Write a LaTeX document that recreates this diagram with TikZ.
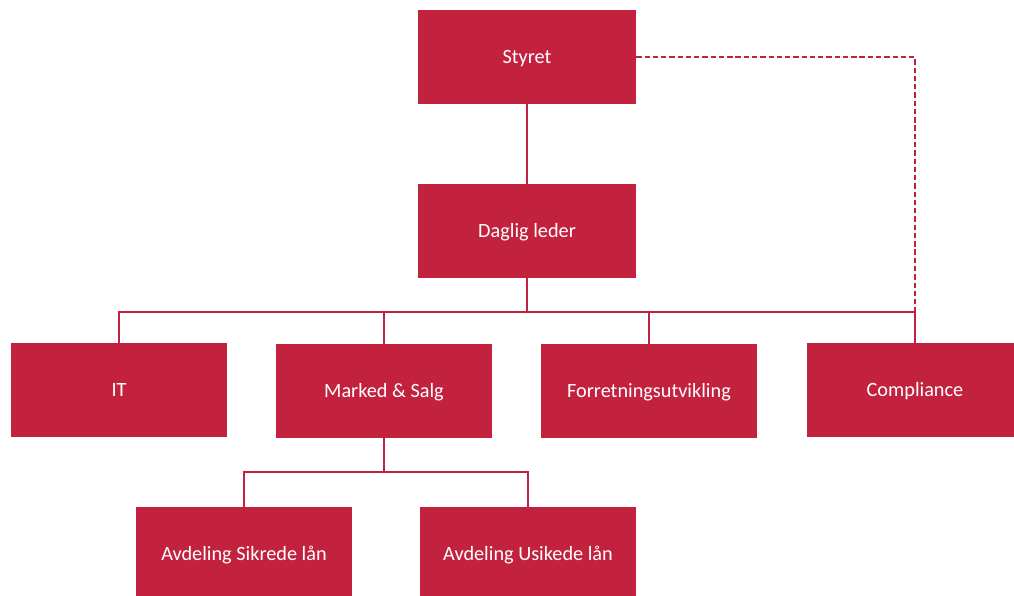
\documentclass[tikz,border=0pt]{standalone}
\usepackage{fontspec}
\setmainfont{Carlito}
\definecolor{orgred}{RGB}{195,34,63}
\tikzset{
    unit/.style={fill=orgred, text=white, minimum width=162pt, minimum height=70.5pt, inner sep=0pt,
        text height=9.8pt, text depth=0pt, font=\fontsize{15.2}{18}\selectfont},
    link/.style={orgred, line width=1.5pt},
    dotted link/.style={orgred, line width=1.2pt, dash pattern=on 4pt off 2.2pt}
}
\begin{document}
\begin{tikzpicture}[x=0.75pt, y=-0.75pt]
    \useasboundingbox (0,0) rectangle (1014,596);
    \clip (0,0) rectangle (1014,596);
    % Top levels
    \node[unit, minimum width=163.5pt] (styret) at (527,57) {Styret};
    \node[unit, minimum width=163.5pt] (leder) at (527,231) {Daglig leder};
    % Departments
    \node[unit] (it) at (119,390) {IT};
    \node[unit] (marked) at (384,391) {Marked \& Salg};
    \node[unit] (forret) at (649,391) {Forretningsutvikling};
    \node[unit] (compl) at (915,390) {Compliance};
    % Sub-departments
    \node[unit] (sikrede) at (244,554) {Avdeling Sikrede lån};
    \node[unit] (usikede) at (528,554) {Avdeling Usikede lån};
    % Bus lines
    \coordinate (bus) at (527,312);
    \coordinate (subbus) at (384,472);
    \draw[link] (styret.south) -- (leder.north);
    \draw[link] (leder.south) -- (bus);
    \draw[link] (it.north) |- (bus);
    \draw[link] (marked.north) |- (bus);
    \draw[link] (forret.north) |- (bus);
    \draw[link] (compl.north) |- (bus);
    \draw[link] (marked.south) -- (subbus);
    \draw[link] (sikrede.north) |- (subbus);
    \draw[link] (usikede.north) |- (subbus);
    % Dashed reporting line
    \draw[dotted link] (styret.east) -| (compl.north);
\end{tikzpicture}
\end{document}
